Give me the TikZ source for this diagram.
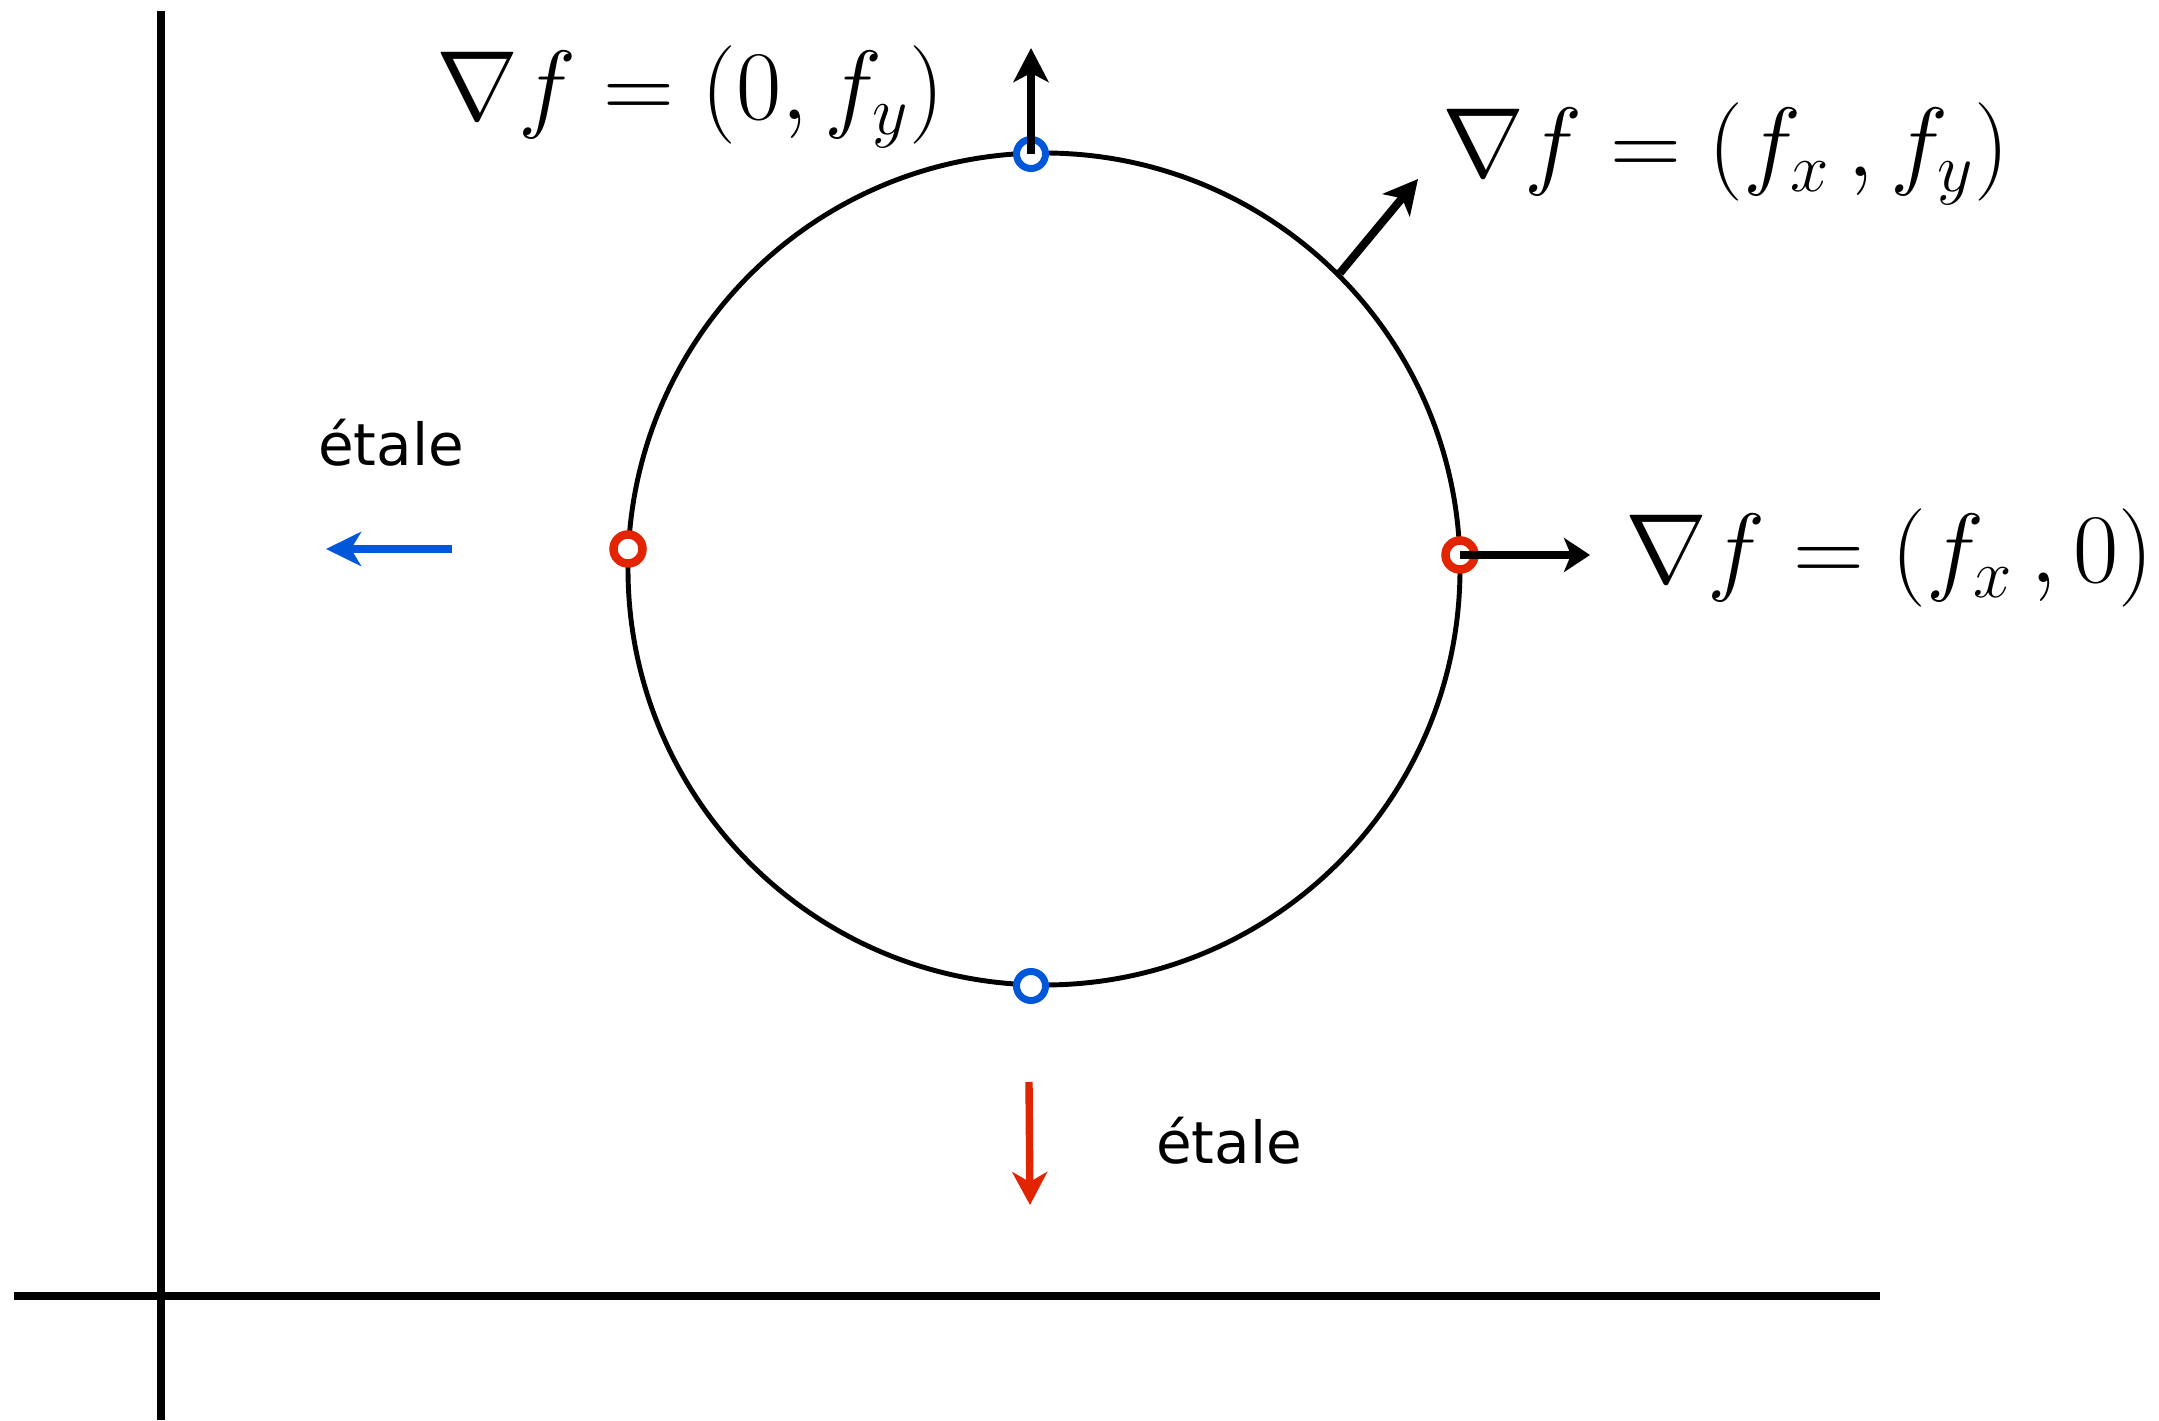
\RequirePackage{fix-cm}
\documentclass[tikz,border=0pt]{standalone}
\usepackage{amsmath, amssymb}
\usepackage{fontspec}
\newfontfamily\etalefont{DejaVu Sans}
\usepackage{tikz}
\usetikzlibrary{arrows.meta, positioning}
\definecolor{rouge}{RGB}{226,36,0}
\definecolor{bleu}{RGB}{0,87,217}

\begin{document}
\begin{tikzpicture}[
  axe/.style={line width=2.3pt},
  fleche/.style={line width=2.3pt,-{Stealth[length=0.34cm,width=0.35cm,inset=0.09cm]}},
  marque/.style={circle,draw=#1,fill=white,line width=0.07cm,minimum size=0.29cm,inner sep=0pt},
  gradient/.style={font=\fontsize{28}{34}\selectfont,inner sep=0pt},
  etale/.style={font=\etalefont\fontsize{16.5}{20}\selectfont,inner sep=0pt}]
  \useasboundingbox (-1.61,-1.24) rectangle (19.98,12.96);
  \draw[axe] (0,-1.24) -- (0,12.85);
  \draw[axe] (-1.47,0) -- (17.19,0);
  \node[circle,draw,line width=1.4pt,minimum size=8.32cm,inner sep=0pt] (cercle) at (8.83,7.27) {};
  \node[marque=bleu] (haut) at (8.70,11.42) {};
  \node[marque=bleu] (bas) at (8.70,3.10) {};
  \node[marque=rouge,line width=0.085cm] (gauche) at (4.67,7.47) {};
  \node[marque=rouge,line width=0.085cm] (droite) at (12.99,7.41) {};
  \coordinate (hautF) at (8.70,12.48);
  \coordinate (diagF) at (12.57,11.17);
  \coordinate (droiteF) at (14.29,7.41);
  \draw[fleche] (haut.center) -- (hautF);
  \draw[fleche] (cercle.45) -- (diagF);
  \draw[fleche,line width=2.1pt,-{Stealth[length=0.26cm,width=0.34cm,inset=0.07cm]}] (droite.center) -- (droiteF);
  \node[gradient,anchor=east] (gradHaut) at (7.84,11.99) {$\nabla f = (0, f_y)$};
  \node[gradient,anchor=west] (gradDiag) at (12.81,11.42) {$\nabla f = (f_x\,, f_y)$};
  \node[gradient,anchor=west] (gradDroite) at (14.64,7.38) {$\nabla f = (f_x\,, 0)$};
  \node[etale] (etaleG) at (2.30,8.53) {étale};
  \node[etale] (etaleB) at (10.68,1.55) {étale};
  \coordinate (bleuA) at (2.91,7.47);
  \coordinate (bleuB) at (1.65,7.47);
  \coordinate (rougeA) at (8.68,2.14);
  \coordinate (rougeB) at (8.69,0.91);
  \draw[fleche,bleu,line width=2.1pt,-{Stealth[length=0.35cm,width=0.34cm,inset=0.1cm]}] (bleuA) -- (bleuB);
  \draw[fleche,rouge,line width=2.1pt,-{Stealth[length=0.33cm,width=0.35cm,inset=0.1cm]}] (rougeA) -- (rougeB);
\end{tikzpicture}
\end{document}
